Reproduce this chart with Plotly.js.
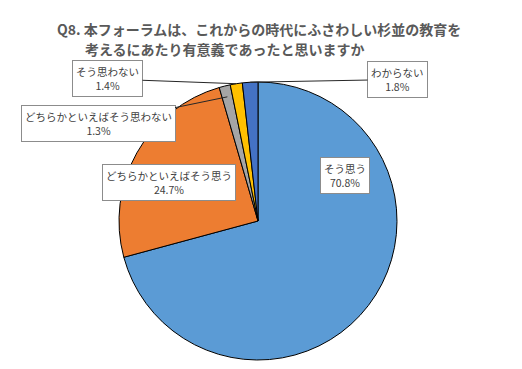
<!DOCTYPE html>
<html><head><meta charset="utf-8">
<script src="https://cdn.plot.ly/plotly-3.0.1.min.js"></script>
<style>html,body{margin:0;padding:0;background:#fff}</style>
</head><body><div id="chart" style="width:522px;height:369px"></div>
<script>
const labels = ["そう思う", "どちらかといえばそう思う", "どちらかといえばそう思わない", "そう思わない", "わからない"];
const values = [70.8, 24.7, 1.3, 1.4, 1.8];
const colors = ["#5B9BD5", "#ED7D31", "#A5A5A5", "#FFC000", "#4472C4"];
const titleLines = ["Q8. 本フォーラムは、これからの時代にふさわしい杉並の教育を", "考えるにあたり有意義であったと思いますか"];

const W = 522, H = 369;
const cx = 258, cy = 221, R = 139; // pie placement in pixels
// label box centers (pixels) and leader settings
const boxPos = [[345, 175.5], [168.5, 182.5], [98, 123.5], [107.5, 79], [397.5, 79.5]];
const leader = [false, false, true, true, true];
const leaderR = [1, 1, 0.92, 1, 1];

const total = values.reduce((a, b) => a + b, 0);
let cum = 0;
const annotations = [];
const font = {family: "Noto Sans CJK JP, sans-serif", size: 10.5, color: "#404040"};
values.forEach((v, i) => {
  const mid = (cum + v / 2) / total;
  cum += v;
  const ang = mid * 2 * Math.PI;
  const text = labels[i] + "<br>" + v.toFixed(1) + "%";
  const base = {text, font, bgcolor: "#ffffff", bordercolor: "#8c8c8c", borderwidth: 1, borderpad: 3, xref: "paper", yref: "paper"};
  if (leader[i]) {
    const px = cx + R * leaderR[i] * Math.sin(ang);
    const py = cy - R * leaderR[i] * Math.cos(ang);
    annotations.push(Object.assign(base, {
      x: px / W, y: 1 - py / H, showarrow: true, arrowhead: 0, arrowwidth: 1, arrowcolor: "#262626",
      standoff: 0, ax: boxPos[i][0] - px, ay: boxPos[i][1] - py
    }));
  } else {
    annotations.push(Object.assign(base, {
      x: boxPos[i][0] / W, y: 1 - boxPos[i][1] / H, xanchor: "center", yanchor: "middle", showarrow: false
    }));
  }
});
const tfont = {family: "Noto Sans CJK JP, sans-serif", size: 14, color: "#595959", weight: "bold"};
annotations.push({text: "<b>" + titleLines[0] + "</b>", x: 55 / W, y: 1 - 29 / H, xref: "paper", yref: "paper", xanchor: "left", yanchor: "middle", showarrow: false, font: tfont});
annotations.push({text: "<b>" + titleLines[1] + "</b>", x: 83 / W, y: 1 - 49 / H, xref: "paper", yref: "paper", xanchor: "left", yanchor: "middle", showarrow: false, font: tfont});

const data = [{
  type: "pie", labels, values, sort: false, direction: "clockwise", rotation: 0,
  marker: {colors, line: {color: "#000000", width: 1}},
  textinfo: "none", hoverinfo: "label+percent",
  domain: {x: [(cx - R) / W, (cx + R) / W], y: [1 - (cy + R) / H, 1 - (cy - R) / H]}
}];
const layout = {
  width: W, height: H, margin: {l: 0, r: 0, t: 0, b: 0}, showlegend: false,
  paper_bgcolor: "#ffffff", annotations
};
Plotly.newPlot("chart", data, layout, {displayModeBar: false, staticPlot: true});
</script></body></html>
